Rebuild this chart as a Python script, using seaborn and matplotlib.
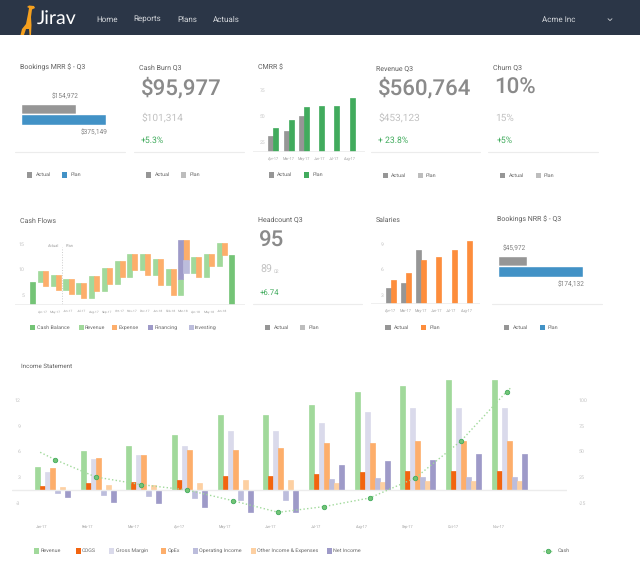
import numpy as np
import pandas as pd
import seaborn as sns
import matplotlib
matplotlib.use("Agg")
import matplotlib.pyplot as plt
from matplotlib.patches import Rectangle, Polygon

sns.set_style("white")
plt.rcParams['font.family'] = ['Roboto', 'DejaVu Sans']
plt.rcParams['text.hinting'] = 'none'

W, H = 640, 575
GREY = "#969696"
LIGHT = "#bdbdbd"
GREEN = "#41ab5d"
ORANGE = "#fd8d3c"
BLUE = "#4292c6"
TICK = "#c4c4c4"
RULE = "#ececec"

# six month cards
six_months = ["Apr-17", "Mar-17", "May-17", "Jun-17", "Jul-17", "Aug-17"]
cmrr_actual = [30.9, 35.8, 50.7, np.nan, np.nan, np.nan]
cmrr_plan = [38.8, 46.4, 59.0, 60.2, 60.2, 68.4]
salaries_actual = [3.75, 4.34, 8.3, np.nan, np.nan, np.nan]
salaries_plan = [4.69, 5.6, 7.09, 7.44, 8.26, 9.32]

# horizontal bars (lengths as drawn, they do not follow the printed labels)
mrr_bars = [244000, 375149]
nrr_bars = [59400, 174132]

# cash flows waterfall
flow_months = ["Apr-17", "May-17", "Jun-17", "Jul-17", "Aug-17", "Sep-17", "Oct-17", "Nov-17",
               "Dec-17", "Jan-18", "Feb-18", "Mar-18", "Apr-18", "May-18", "Jun-18"]
flow_rev_low = [7.48, 6.70, 5.92, 5.13, 4.35, 5.72, 7.09, 8.46, 9.90, 8.99, 6.96, 5.0, 9.31, 8.46, 10.69]
flow_rev_high = [9.77, 8.99, 8.2, 7.42, 8.79, 10.23, 11.6, 12.97, 12.97, 12.12, 10.10, 8.14, 12.45, 12.97, 15.2]
flow_exp_low = [6.70, 5.92, 5.13, 4.35, 5.72, 7.09, 8.46, 9.90, 8.99, 6.96, 5.0, 11.8, 8.46, 10.69, 12.84]
flow_exp_high = [9.77, 8.99, 8.2, 7.42, 8.79, 10.23, 11.6, 12.97, 12.97, 12.12, 10.10, 15.85, 12.45, 12.97, 15.2]
financing = [8.14, 15.85]
investing = [9.31, 11.8]
cash_start = 7.48
cash_end = 12.84

# income statement
inc_months = ["Jan-17", "Feb-17", "Mar-17", "Apr-17", "May-17", "Jun-17", "Jul-17", "Aug-17",
              "Sep-17", "Oct-17", "Nov-17"]
inc_series = {
    "Revenue": [2.77, 4.6, 5.16, 6.48, 8.79, 8.79, 10.0, 11.5, 12.2, 12.9, 12.9],
    "COGS": [0.5, 0.86, 0.98, 1.2, 1.64, 1.64, 1.88, 2.15, 2.27, 2.27, 2.27],
    "Gross Margin": [2.19, 3.67, 4.1, 5.2, 6.95, 6.95, 7.93, 9.14, 9.69, 9.69, 9.69],
    "OpEx": [2.62, 3.75, 4.14, 4.69, 4.69, 4.96, 5.5, 5.5, 5.82, 5.82, 5.82],
    "Operating Income": [-0.35, -0.59, -0.62, -0.86, -1.13, -1.13, 1.29, 1.48, 1.6, 1.6, 1.6],
    "Other Income & Expenses": [0.35, 0.62, 0.66, 0.86, 1.17, 1.17, 0.86, 1.0, 1.09, 1.09, 1.09],
    "Net Income": [-0.82, -1.33, -1.48, -1.9, -2.58, -2.58, 2.97, 3.4, 3.55, 4.26, 4.26],
}
inc_colors = ["#a1d99b", "#f2640f", "#dadaeb", "#fdae6b", "#bcbddc", "#fdd0a2", "#9e9ac8"]
cash_x = [-0.27, 0.055, 0.945, 1.945, 2.945, 3.945, 4.945, 5.945, 6.945, 7.945, 8.945, 9.945, 10.05]
cash_y = [4.45, 3.59, 1.56, 0.66, 0.04, -1.21, -2.58, -1.91, -0.9, 1.45, 5.78, 11.56, 12.07]

fig = plt.figure(figsize=(W / 100, H / 100), dpi=100)
bg = fig.add_axes([0, 0, 1, 1])
bg.set_xlim(0, W)
bg.set_ylim(H, 0)
bg.axis("off")


def panel(x0, y0, x1, y1):
    ax = fig.add_axes([x0 / W, 1 - y1 / H, (x1 - x0) / W, (y1 - y0) / H])
    ax.patch.set_alpha(0)
    for s in ax.spines.values():
        s.set_visible(False)
    return ax


def fatten(ax):
    # the bars in the reference bleed a little past their edges
    for p in ax.patches:
        p.set_edgecolor(p.get_facecolor())
        p.set_linewidth(0.5)


def label(x, y, s, size=5.0, color="#606060", **kw):
    bg.text(x, y, s, fontsize=size, color=color, va="center", **kw)


def swatches(y, items):
    for x, lx, name, col in items:
        bg.add_patch(Rectangle((x, y - 2.7), 5.4, 5.4, color=col, lw=0))
        label(lx, y, name, size=3.9, color="#6a6a6a")


def kpi(x, title, tx, big, small, delta, dx, sx=None):
    label(tx, 68, title)
    label(x, 88, big, size=16, color="#8a8a8a", weight="medium")
    label(sx or x, 118, small, size=7.3, color="#c2c2c2")
    label(dx, 140.5, delta, size=6.2, color=GREEN)


def rule(x0, x1, y):
    bg.plot([x0, x1], [y, y], color=RULE, lw=0.8)


def month_bars(box, actual, plan, colour, ticks, tick_labels, ylim, xlim):
    ax = panel(*box)
    df = pd.DataFrame({"month": six_months * 2,
                       "kind": ["Actual"] * 6 + ["Plan"] * 6,
                       "value": list(actual) + list(plan)})
    sns.barplot(data=df, x="month", y="value", hue="kind", order=six_months,
                hue_order=["Actual", "Plan"], palette=[GREY, colour], width=0.66,
                saturation=1, legend=False, errorbar=None, ax=ax)
    fatten(ax)
    ax.set_xlim(*xlim)
    ax.set_ylim(*ylim)
    ax.set_xlabel("")
    ax.set_ylabel("")
    ax.set_yticks(ticks)
    ax.set_yticklabels(tick_labels)
    ax.tick_params(axis="y", labelsize=3.6, labelcolor=TICK, length=0, pad=-9)
    ax.tick_params(axis="x", labelsize=2.7, labelcolor="#a0a0a0", length=0, pad=3.5)
    ax.axhline(ylim[0], color=RULE, lw=1.2)
    return ax


def hbar(box, values, colour):
    ax = panel(*box)
    cats = ["Actual", "Plan"]
    sns.barplot(x=values, y=cats, hue=cats, palette=[GREY, colour], width=1.0, saturation=1,
                legend=False, orient="h", ax=ax)
    ax.set_xlim(0, values[1])
    ax.set_ylim(1.5, -0.5)
    ax.axis("off")


# header
bg.add_patch(Rectangle((0, 0), W, 35, color="#2b3647", lw=0))
bg.add_patch(Polygon([(20.5, 35), (22, 29), (26, 24), (28, 14), (29, 8), (27, 7), (29, 5.5), (34, 6),
                      (35, 8), (32, 9.5), (31, 17), (31.5, 25), (31, 35), (29.5, 35), (29, 29), (26, 29),
                      (24, 35)], color="#f5a01e", lw=0))
bg.text(37, 19.5, "Jirav", fontsize=14, color="#ffffff", va="center", family="Lato")
for x, name in [(96, "Home"), (133.5, "Reports"), (177, "Plans"), (213, "Actuals")]:
    label(x, 19.5, name, size=5.8, color="#d4d7db")
label(541.5, 19.5, "Acme Inc", size=5.8, color="#d4d7db")
bg.plot([608, 610, 612], [18.7, 20.6, 18.7], color="#c8ccd1", lw=0.6)

# top row
label(20, 67.5, "Bookings MRR $ - Q3")
hbar((20.5, 104, 105.7, 124.5), mrr_bars, BLUE)
label(52, 96, "$154,972", size=4.7, color="#808080")
label(81, 132, "$375,149", size=4.7, color="#808080")
rule(15, 125, 152)
swatches(175, [(27, 36, "Actual", GREY), (62, 71, "Plan", BLUE)])

kpi(141, "Cash Burn Q3", 139, "$95,977", "$101,314", "+5.3%", 141)
rule(134, 244, 152)
swatches(175, [(146, 155, "Actual", GREY), (181, 190, "Plan", LIGHT)])

label(258, 67.5, "CMRR $")
month_bars((253, 85, 365, 152), cmrr_actual, cmrr_plan, GREEN, [25.0, 50.3, 75.8], ["25", "50", "75"],
           (14.8, 81), (-1.33, 6.0))
swatches(175, [(268.5, 277, "Actual", GREY), (304, 313, "Plan", GREEN)])

kpi(377.5, "Revenue Q3", 375.5, "$560,764", "$453,123", "+ 23.8%", 378, sx=378)
rule(370.5, 480, 152)
swatches(175.5, [(382.5, 391, "Actual", GREY), (418, 426, "Plan", LIGHT)])

kpi(494, "Churn Q3", 493, "10%", "15%", "+5%", 497, sx=495)
rule(488, 598, 152)
swatches(175.5, [(500, 508.5, "Actual", GREY), (535.5, 544, "Plan", LIGHT)])

# cash flows
label(20, 220.7, "Cash Flows")
flows = panel(15, 235, 245, 305)
pos = np.arange(len(flow_months))
flow_rev_low = np.array(flow_rev_low)
flow_exp_low = np.array(flow_exp_low)
flows.bar(pos - 0.2, np.array(flow_rev_high) - flow_rev_low, 0.4, bottom=flow_rev_low, color="#a1d99b")
flows.bar(pos + 0.2, np.array(flow_exp_high) - flow_exp_low, 0.4, bottom=flow_exp_low, color="#fdae6b")
flows.bar(11 - 0.2, financing[1] - financing[0], 0.4, bottom=financing[0], color="#9e9ac8")
flows.bar(11 + 0.2, investing[1] - investing[0], 0.4, bottom=investing[0], color="#bcbddc")
flows.bar([-0.81, 14.78], [cash_start, cash_end], 0.4, color="#74c476")
fatten(flows)
flows.set_xlim((15 - 43) / 12.77, (245 - 43) / 12.77)
flows.set_ylim(3.04, 3.04 + 70 * 3 / 15.3)
flows.vlines(1.46, 3.3, 14.5, color="#cccccc", lw=0.7, linestyles=":")
flows.axhline(3.04, color=RULE, lw=1.2)
flows.set_xticks(pos)
flows.set_xticklabels(flow_months)
flows.set_yticks([5, 10, 15])
flows.set_yticklabels(["5", "10", "15"])
flows.tick_params(axis="y", labelsize=3.8, labelcolor=TICK, length=0, pad=-7)
flows.tick_params(axis="x", labelsize=2.4, labelcolor="#a0a0a0", length=0, pad=3.5)
bg.text(53.5, 246, "Actual", fontsize=2.9, color="#a0a0a0", ha="center", va="center")
bg.text(69.7, 246, "Plan", fontsize=2.9, color="#a0a0a0", ha="center", va="center")
swatches(327.7, [(30, 37, "Cash Balance", "#74c476"), (78.5, 85, "Revenue", "#a1d99b"),
                 (112, 118.5, "Expense", "#fdae6b"), (148, 155, "Financing", "#9e9ac8"),
                 (188.5, 195, "Investing", "#bcbddc")])

# headcount
label(258, 220, "Headcount Q3")
label(259, 241, "95", size=16, color="#8a8a8a", weight="medium")
label(260, 270, "89", size=7.7, color="#c2c2c2")
label(274, 272, "02", size=3.6, color="#c2c2c2")
label(260, 293, "+6.74", size=5.6, color=GREEN)
rule(253, 362, 304)
swatches(327.7, [(265, 273.5, "Actual", GREY), (300, 308.5, "Plan", LIGHT)])

# salaries
label(375.3, 220, "Salaries")
month_bars((370.7, 238, 480, 304.3), salaries_actual, salaries_plan, ORANGE, [3, 6, 9], ["3", "6", "9"],
           (1.87, 1.87 + 66.3 / 8.5), ((370.7 - 390.7) / 15.2, (480 - 390.7) / 15.2))
swatches(327.7, [(385.3, 394, "Actual", GREY), (421, 429.5, "Plan", ORANGE)])

# bookings nrr
label(497, 219.5, "Bookings NRR $ - Q3")
hbar((497.7, 256, 583, 276.5), nrr_bars, BLUE)
label(503, 248, "$45,972", size=4.7, color="#808080")
label(558, 284, "$174,132", size=4.7, color="#808080")
rule(492, 602, 304)
swatches(327.5, [(504, 513, "Actual", GREY), (540, 548, "Plan", BLUE)])

# income statement
label(20.7, 366.5, "Income Statement", size=4.5)
inc = panel(12, 375, 567, 520)
inc_df = pd.DataFrame({"month": inc_months * len(inc_series),
                       "item": [k for k in inc_series for _ in inc_months],
                       "value": [v for vals in inc_series.values() for v in vals]})
sns.barplot(data=inc_df, x="month", y="value", hue="item", order=inc_months,
            hue_order=list(inc_series), palette=inc_colors, width=0.77, saturation=1,
            legend=False, errorbar=None, ax=inc)
fatten(inc)
inc_xlim = ((12 - 52.5) / 45.67, (567 - 52.5) / 45.67)
inc_ylim = (-3.48, 13.5)
inc.set_xlim(*inc_xlim)
inc.set_ylim(*inc_ylim)
inc.set_xlabel("")
inc.set_ylabel("")
inc.axhline(0, color=RULE, lw=1.0)
inc.set_xticks(np.arange(len(inc_months)) - 0.23)
inc.set_xticklabels(inc_months)
left_ticks = [-1.45, 1.56, 4.57, 7.57, 10.58]
inc.set_yticks(left_ticks)
inc.set_yticklabels(["-3", "3", "6", "9", "12"])
inc.tick_params(axis="y", labelsize=3.8, labelcolor=TICK, length=0, pad=-6)
inc.tick_params(axis="x", labelsize=2.7, labelcolor="#a0a0a0", length=0, pad=3.5)

cash_ax = inc.twinx()
cash_ax.patch.set_alpha(0)
for s in cash_ax.spines.values():
    s.set_visible(False)
sns.lineplot(x=cash_x, y=cash_y, sort=False, errorbar=None, color="#a1d99b", linestyle=":", lw=1.0,
             marker="o", markersize=3.2, markerfacecolor="#74c476", markeredgecolor="#41ab5d",
             markeredgewidth=0.6, markevery=list(range(1, 12)), ax=cash_ax)
cash_ax.set_ylim(*inc_ylim)
cash_ax.set_xlim(*inc_xlim)
cash_ax.set_ylabel("")
cash_ax.set_yticks(left_ticks)
cash_ax.set_yticklabels(["-25", "25", "50", "75", "100"])
cash_ax.tick_params(axis="y", labelsize=3.8, labelcolor=TICK, length=0, pad=8.5)

swatches(551, [(34, 41, "Revenue", inc_colors[0]), (75.5, 82, "COGS", inc_colors[1]),
               (109, 115.5, "Gross Margin", inc_colors[2]), (160.7, 167.5, "OpEx", inc_colors[3]),
               (192.7, 199, "Operating Income", inc_colors[4]),
               (250.5, 257, "Other Income & Expenses", inc_colors[5]),
               (326.7, 333, "Net Income", inc_colors[6])])
bg.plot([542.7, 554], [551, 551], color="#a1d99b", lw=1, ls=":")
bg.plot([548], [551], "o", ms=3.2, mfc="#74c476", mec="#41ab5d", mew=0.6)
label(558, 551, "Cash", size=3.9, color="#6a6a6a")

bg.set_xlim(0, W)
bg.set_ylim(H, 0)
fig.savefig("out.png", dpi=100)
